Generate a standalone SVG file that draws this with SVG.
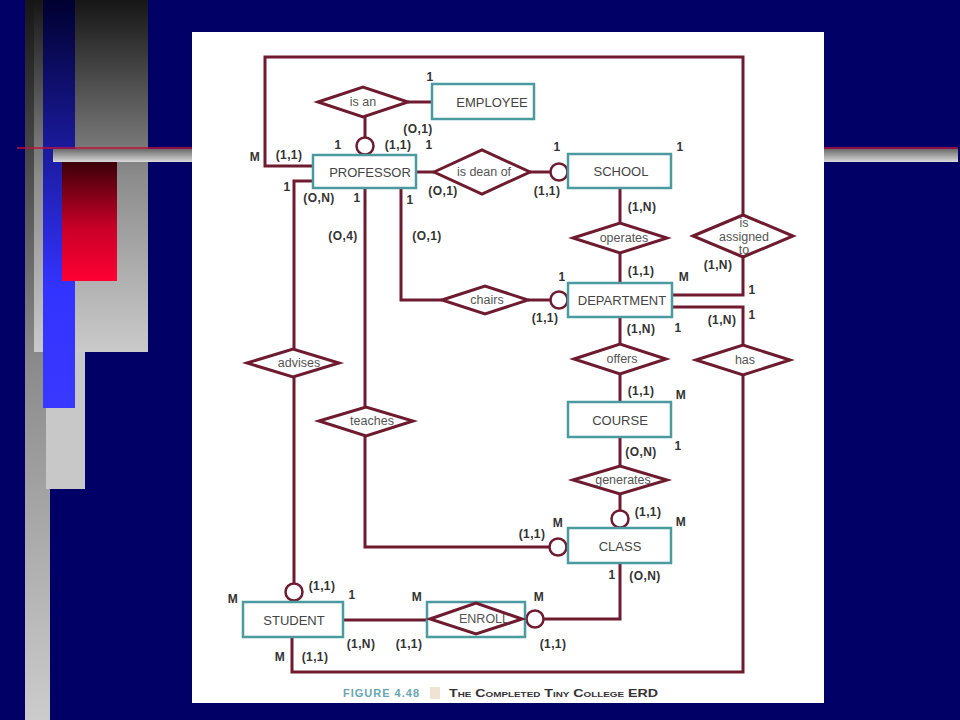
<svg xmlns="http://www.w3.org/2000/svg" width="960" height="720" viewBox="0 0 960 720">
<style>
.ent{fill:#fff;stroke:#4a9aa0;stroke-width:2.5}
.rel{fill:#fff;stroke:#6e1b30;stroke-width:3}
.con{fill:none;stroke:#6e1b30;stroke-width:3}
.opt{fill:#fff;stroke:#6e1b30;stroke-width:2.5}
.el{font-family:"Liberation Sans",Arial,sans-serif;font-size:13px;fill:#444;text-anchor:middle;dominant-baseline:central}
.rl{font-family:"Liberation Sans",Arial,sans-serif;font-size:12.5px;fill:#555;text-anchor:middle;dominant-baseline:central}
.cd{font-family:"Liberation Sans",Arial,sans-serif;font-size:12px;font-weight:bold;fill:#333;text-anchor:middle;dominant-baseline:central;letter-spacing:0.4px}
</style>
<defs>
<linearGradient id="gStrip" x1="0" y1="0" x2="0" y2="1"><stop offset="0" stop-color="#161616"/><stop offset="0.5" stop-color="#8a8a8a"/><stop offset="1" stop-color="#cccccc"/></linearGradient>
<linearGradient id="gBig" x1="0" y1="0" x2="0" y2="1"><stop offset="0" stop-color="#161616"/><stop offset="0.5" stop-color="#8c8c8c"/><stop offset="1" stop-color="#cacaca"/></linearGradient>
<linearGradient id="gBlue" x1="0" y1="0" x2="0" y2="1"><stop offset="0" stop-color="#000030"/><stop offset="0.7" stop-color="#3333ff"/><stop offset="1" stop-color="#3838ff"/></linearGradient>
<linearGradient id="gRed" x1="0" y1="0" x2="0" y2="1"><stop offset="0" stop-color="#3a0008"/><stop offset="0.55" stop-color="#c80028"/><stop offset="1" stop-color="#ff0033"/></linearGradient>
<linearGradient id="gBar" x1="0" y1="0" x2="0" y2="1"><stop offset="0" stop-color="#6a6a6a"/><stop offset="1" stop-color="#dadada"/></linearGradient>
</defs>
<rect x="0" y="0" width="960" height="720" fill="#000066"/>
<g id="decor">
<rect x="25" y="0" width="25" height="720" fill="url(#gStrip)"/>
<rect x="34" y="0" width="114" height="352" fill="url(#gBig)"/>
<rect x="46" y="352" width="39" height="137" fill="#c8c8c8"/>
<rect x="43" y="0" width="32" height="408" fill="url(#gBlue)"/>
<rect x="62" y="162" width="55" height="119" fill="url(#gRed)"/>
<rect x="53" y="149" width="139" height="13" fill="url(#gBar)"/>
<rect x="824" y="149" width="134" height="13" fill="url(#gBar)"/>
<line x1="17" y1="148" x2="192" y2="148" stroke="#c0103a" stroke-width="1.5"/>
<line x1="824" y1="148" x2="958" y2="148" stroke="#c0103a" stroke-width="1.5"/>
</g>
<rect x="192" y="32" width="632" height="671" fill="#ffffff"/>
<g id="connectors">
<path class="con" d="M313,166 H265 V57 H743 V215"/>
<path class="con" d="M743,257 V295 H672"/>
<path class="con" d="M672,307 H743 V345"/>
<path class="con" d="M743,375 V672 H292 V637"/>
<path class="con" d="M408,102 H432"/>
<path class="con" d="M365,117 V138"/>
<path class="con" d="M410,172 H434"/>
<path class="con" d="M530,172 H550"/>
<path class="con" d="M620,188 V223"/>
<path class="con" d="M620,253 V283"/>
<path class="con" d="M401,188 V300 H442"/>
<path class="con" d="M528,300 H550"/>
<path class="con" d="M620,317 V344"/>
<path class="con" d="M620,374 V402"/>
<path class="con" d="M620,437 V466"/>
<path class="con" d="M620,494 V510"/>
<path class="con" d="M365,188 V407"/>
<path class="con" d="M365,436 V547 H549"/>
<path class="con" d="M313,181 H294 V349"/>
<path class="con" d="M294,377 V583"/>
<path class="con" d="M343,620 H427"/>
<path class="con" d="M544,619 H620 V563"/>
<circle class="opt" cx="365" cy="146" r="8.5"/>
<circle class="opt" cx="559" cy="172" r="8.5"/>
<circle class="opt" cx="559" cy="300" r="8.5"/>
<circle class="opt" cx="620" cy="519" r="8.5"/>
<circle class="opt" cx="558" cy="547" r="8.5"/>
<circle class="opt" cx="294" cy="592" r="8.5"/>
<circle class="opt" cx="535" cy="619" r="8.5"/>
</g>
<g id="employee"><rect class="ent" x="432" y="84" width="102" height="35"/><text class="el" x="492" y="102">EMPLOYEE</text></g>
<g id="professor"><rect class="ent" x="313" y="155" width="103" height="33"/><text class="el" x="370" y="172">PROFESSOR</text></g>
<g id="school"><rect class="ent" x="568" y="154" width="103" height="34"/><text class="el" x="621" y="171">SCHOOL</text></g>
<g id="department"><rect class="ent" x="568" y="283" width="104" height="34"/><text class="el" x="622" y="300">DEPARTMENT</text></g>
<g id="course"><rect class="ent" x="568" y="402" width="103" height="35"/><text class="el" x="620" y="420">COURSE</text></g>
<g id="class"><rect class="ent" x="568" y="528" width="103" height="35"/><text class="el" x="620" y="546">CLASS</text></g>
<g id="student"><rect class="ent" x="243" y="602" width="100" height="35"/><text class="el" x="294" y="620">STUDENT</text></g>
<g id="enroll"><rect class="ent" x="427" y="602" width="98" height="35"/><polygon class="rel" points="430,619 476,603 522,619 476,634"/><text class="rl" x="484" y="619" font-size="13">ENROLL</text></g>
<g id="is-an"><polygon class="rel" points="318,102 363,87 408,102 363,117"/><text class="rl" x="363" y="102">is an</text></g>
<g id="is-dean-of"><polygon class="rel" points="434,172 482,150 530,172 482,194"/><text class="rl" x="484" y="172">is dean of</text></g>
<g id="chairs"><polygon class="rel" points="442,300 485,286 528,300 485,314"/><text class="rl" x="487" y="300">chairs</text></g>
<g id="operates"><polygon class="rel" points="573,238 620,223 667,238 620,253"/><text class="rl" x="624" y="238">operates</text></g>
<g id="is-assigned-to"><polygon class="rel" points="693,236 743,215 793,236 743,257"/><text class="rl" x="744" y="223">is</text><text class="rl" x="744" y="237">assigned</text><text class="rl" x="744" y="250">to</text></g>
<g id="offers"><polygon class="rel" points="574,359 620,344 666,359 620,374"/><text class="rl" x="622" y="359">offers</text></g>
<g id="has"><polygon class="rel" points="696,360 743,345 790,360 743,375"/><text class="rl" x="745" y="360">has</text></g>
<g id="generates"><polygon class="rel" points="573,480 620,466 667,480 620,494"/><text class="rl" x="623" y="480">generates</text></g>
<g id="teaches"><polygon class="rel" points="319,421 366,407 413,421 366,436"/><text class="rl" x="372" y="421">teaches</text></g>
<g id="advises"><polygon class="rel" points="247,363 293,349 339,363 293,377"/><text class="rl" x="299" y="363">advises</text></g>
<g id="cardinalities">
<text class="cd" x="430" y="77">1</text>
<text class="cd" x="418" y="129">(O,1)</text>
<text class="cd" x="338" y="145">1</text>
<text class="cd" x="398" y="145">(1,1)</text>
<text class="cd" x="429" y="145">1</text>
<text class="cd" x="255" y="157">M</text>
<text class="cd" x="289" y="155">(1,1)</text>
<text class="cd" x="287" y="187">1</text>
<text class="cd" x="319" y="198">(O,N)</text>
<text class="cd" x="357" y="198">1</text>
<text class="cd" x="343" y="236">(O,4)</text>
<text class="cd" x="410" y="200">1</text>
<text class="cd" x="443" y="191">(O,1)</text>
<text class="cd" x="427" y="236">(O,1)</text>
<text class="cd" x="557" y="147">1</text>
<text class="cd" x="680" y="147">1</text>
<text class="cd" x="547" y="191">(1,1)</text>
<text class="cd" x="642" y="207">(1,N)</text>
<text class="cd" x="641" y="271">(1,1)</text>
<text class="cd" x="562" y="277">1</text>
<text class="cd" x="684" y="277">M</text>
<text class="cd" x="718" y="265">(1,N)</text>
<text class="cd" x="752" y="290">1</text>
<text class="cd" x="545" y="318">(1,1)</text>
<text class="cd" x="641" y="329">(1,N)</text>
<text class="cd" x="678" y="328">1</text>
<text class="cd" x="722" y="320">(1,N)</text>
<text class="cd" x="752" y="315">1</text>
<text class="cd" x="641" y="391">(1,1)</text>
<text class="cd" x="681" y="395">M</text>
<text class="cd" x="641" y="452">(O,N)</text>
<text class="cd" x="678" y="446">1</text>
<text class="cd" x="648" y="512">(1,1)</text>
<text class="cd" x="681" y="522">M</text>
<text class="cd" x="532" y="534">(1,1)</text>
<text class="cd" x="558" y="523">M</text>
<text class="cd" x="612" y="575">1</text>
<text class="cd" x="645" y="576">(O,N)</text>
<text class="cd" x="539" y="597">M</text>
<text class="cd" x="553" y="644">(1,1)</text>
<text class="cd" x="322" y="586">(1,1)</text>
<text class="cd" x="352" y="595">1</text>
<text class="cd" x="233" y="599">M</text>
<text class="cd" x="417" y="597">M</text>
<text class="cd" x="361" y="644">(1,N)</text>
<text class="cd" x="409" y="644">(1,1)</text>
<text class="cd" x="280" y="657">M</text>
<text class="cd" x="315" y="657">(1,1)</text>
</g>
<g id="caption">
<text x="343" y="697" font-family="'Liberation Sans',Arial,sans-serif" font-size="11" font-weight="bold" fill="#6aa6b0" letter-spacing="1">FIGURE 4.48</text>
<rect x="430" y="687" width="10" height="12" fill="#efe3d4"/>
<text x="449" y="697" font-family="'Liberation Sans',Arial,sans-serif" font-size="11.5" font-weight="bold" fill="#333" style="font-variant:small-caps" textLength="209" lengthAdjust="spacingAndGlyphs">The Completed Tiny College ERD</text>
</g>
</svg>
